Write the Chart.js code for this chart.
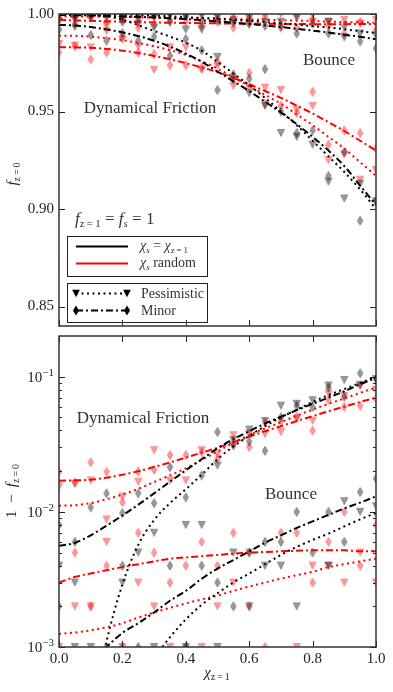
<!DOCTYPE html>
<html>
<head>
<meta charset="utf-8">
<script src="https://cdn.jsdelivr.net/npm/chart.js@4.4.1/dist/chart.umd.min.js"></script>
<style>
html, body { margin: 0; padding: 0; background: #fff; }
#wrap { position: relative; width: 393px; height: 692px; }
canvas { position: absolute; left: 0; }
#top { top: 0; }
#bot { top: 331px; }
</style>
</head>
<body>
<div id="wrap">
  <canvas id="top" width="393" height="331"></canvas>
  <canvas id="bot" width="393" height="361"></canvas>
</div>
<script>
// chi_{z=1} grid
const chi = [0, 0.05, 0.1, 0.15, 0.2, 0.25, 0.3, 0.35, 0.4, 0.45, 0.5, 0.55, 0.6, 0.65, 0.7, 0.75, 0.8, 0.85, 0.9, 0.95, 1.0];

// fitted curves, given as 1 - f_{z=0}
const dfMinorBlack = [0.0056, 0.0059, 0.0067, 0.0079, 0.0094, 0.0113, 0.0137, 0.0167, 0.0203, 0.0245, 0.0295, 0.0345, 0.0395, 0.045, 0.0505, 0.0565, 0.063, 0.070, 0.078, 0.088, 0.098];
const dfPessBlack = [0.00002, 0.00006, 0.0003, 0.0011, 0.0029, 0.0057, 0.0087, 0.0116, 0.0147, 0.0188, 0.0245, 0.0305, 0.0365, 0.043, 0.050, 0.057, 0.065, 0.073, 0.081, 0.090, 0.100];
const dfMinorRed = [0.0170, 0.0171, 0.0173, 0.0179, 0.0188, 0.0200, 0.0215, 0.0232, 0.0252, 0.0274, 0.0298, 0.0327, 0.0360, 0.0395, 0.043, 0.047, 0.051, 0.0555, 0.060, 0.065, 0.070];
const dfPessRed = [0.0111, 0.0112, 0.0116, 0.0124, 0.0134, 0.0148, 0.0166, 0.0186, 0.021, 0.0242, 0.028, 0.0325, 0.037, 0.0415, 0.046, 0.0515, 0.057, 0.063, 0.069, 0.076, 0.083];
const bMinorBlack = [0.0005, 0.0006, 0.00075, 0.001, 0.00127, 0.0015, 0.0018, 0.0022, 0.0026, 0.0032, 0.0038, 0.0044, 0.0051, 0.0059, 0.0067, 0.0076, 0.0085, 0.0095, 0.0106, 0.0117, 0.013];
const bPessBlack = [0.00003, 0.00006, 0.00011, 0.0002, 0.00032, 0.00052, 0.00082, 0.00118, 0.0016, 0.00205, 0.0025, 0.003, 0.0035, 0.0041, 0.0048, 0.0055, 0.0062, 0.0069, 0.0078, 0.0088, 0.0098];
const bMinorRed = [0.0030, 0.0033, 0.0035, 0.0037, 0.0039, 0.0041, 0.0043, 0.0045, 0.0046, 0.0047, 0.0048, 0.0049, 0.0050, 0.00505, 0.0051, 0.00515, 0.0052, 0.0052, 0.0052, 0.0051, 0.0051];
const bPessRed = [0.00125, 0.00128, 0.00133, 0.0014, 0.0015, 0.00165, 0.0018, 0.00195, 0.0021, 0.00225, 0.0024, 0.0026, 0.0028, 0.003, 0.0032, 0.0034, 0.0036, 0.0039, 0.0041, 0.0043, 0.0045];

// simulation points, 1 - f_{z=0} (0 = nothing lost)
const ptDfMinorBlack = [0.008, 0.006, 0.0108, 0.0137, 0.0098, 0.0137, 0.0116, 0.0214, 0.0128, 0.0186, 0.039, 0.031, 0.0331, 0.0283, 0.050, 0.061, 0.0597, 0.083, 0.0708, 0.106, 0.096];
const ptDfPessBlack = [0, 0.001, 0, 0, 0, 0.005, 0.007, 0, 0.008, 0.008, 0.022, 0.034, 0.0406, 0.047, 0.061, 0.063, 0.067, 0.086, 0.0946, 0.087, 0.096];
const ptDfMinorRed = [0.0198, 0.0165, 0.0233, 0.0198, 0.0118, 0.0199, 0.0205, 0.0263, 0.0263, 0.0275, 0.0246, 0.032, 0.0302, 0.046, 0.047, 0.0507, 0.0399, 0.067, 0.0597, 0.061, 0.069];
const ptDfPessRed = [0.0154, 0.0162, 0.0171, 0.0088, 0.013, 0.0167, 0.0286, 0.0171, 0.0171, 0.0286, 0.0265, 0.0369, 0.038, 0.0378, 0.039, 0.049, 0.0472, 0.075, 0.072, 0.085, 0.080];
const ptBMinorBlack = [0.002, 0, 0, 0.001, 0.004, 0.001, 0, 0.004, 0.001, 0.004, 0.003, 0.002, 0.005, 0.006, 0.006, 0.010, 0.005, 0.010, 0.006, 0.014, 0.0176];
const ptBPessBlack = [0.004, 0.003, 0.001, 0, 0.003, 0, 0.001, 0, 0.001, 0, 0.001, 0.005, 0.002, 0.004, 0.004, 0.002, 0, 0.004, 0.012, 0.010, 0.011];
const ptBMinorRed = [0, 0.005, 0.002, 0.004, 0.001, 0.007, 0.005, 0.003, 0.004, 0.006, 0.004, 0.007, 0.002, 0.001, 0.007, 0.007, 0.003, 0.006, 0.010, 0.004, 0.008];
const ptBPessRed = [0.001, 0.002, 0.002, 0.006, 0.001, 0.003, 0.002, 0.001, 0, 0.001, 0.002, 0.003, 0.005, 0, 0, 0.001, 0.004, 0.004, 0.003, 0.005, 0.003];

// ticks
const xTicks = [0, 0.2, 0.4, 0.6, 0.8, 1.0];
const xTickLabels = ['0.0', '0.2', '0.4', '0.6', '0.8', '1.0'];
const yTicksTop = [0.85, 0.90, 0.95, 1.00];
const yTickLabelsTop = ['0.85', '0.90', '0.95', '1.00'];
const yTicksBot = [0.001, 0.01, 0.1];
const yTickExpBot = ['\u22123', '\u22122', '\u22121'];

const SERIF = '"Liberation Serif", "DejaVu Serif", serif';
const DOT = [2, 3.5];
const DASHDOT = [7, 3, 2, 3];
const GRAY = 'rgba(0,0,0,0.4)';
const PINK = 'rgba(255,0,0,0.4)';

function triPath(g, cx, cy, s) {
  g.beginPath();
  g.moveTo(cx - s, cy - s);
  g.lineTo(cx + s, cy - s);
  g.lineTo(cx, cy + s);
  g.closePath();
}
function diaPath(g, cx, cy, s) {
  g.beginPath();
  g.moveTo(cx, cy - s);
  g.lineTo(cx + s * 0.6, cy);
  g.lineTo(cx, cy + s);
  g.lineTo(cx - s * 0.6, cy);
  g.closePath();
}
function marker(kind, color) {
  const c = document.createElement('canvas');
  c.width = 12; c.height = 12;
  const g = c.getContext('2d');
  if (kind === 'v') triPath(g, 6, 6, 3.6); else diaPath(g, 6, 6, 4.6);
  g.fillStyle = color; g.fill();
  g.lineWidth = 0.8; g.strokeStyle = color; g.stroke();
  return c;
}
const mk = {
  grayV: marker('v', GRAY), grayD: marker('d', GRAY),
  redV: marker('v', PINK), redD: marker('d', PINK)
};

function curveData(vals, top) {
  return chi.map((x, i) => ({ x: x, y: top ? 1 - vals[i] : vals[i] }));
}
function pointData(vals, top) {
  return chi.map((x, i) => ({ x: x, y: top ? 1 - vals[i] : (vals[i] > 0 ? vals[i] : null) }));
}

function buildDatasets(top) {
  const lines = [
    [dfMinorBlack, '#000', DASHDOT], [dfPessBlack, '#000', DOT],
    [dfMinorRed, '#ff0000', DASHDOT], [dfPessRed, '#ff0000', DOT],
    [bMinorBlack, '#000', DASHDOT], [bPessBlack, '#000', DOT],
    [bMinorRed, '#ff0000', DASHDOT], [bPessRed, '#ff0000', DOT]
  ];
  const pts = [
    [ptDfMinorBlack, mk.grayD], [ptDfPessBlack, mk.grayV],
    [ptDfMinorRed, mk.redD], [ptDfPessRed, mk.redV],
    [ptBMinorBlack, mk.grayD], [ptBPessBlack, mk.grayV],
    [ptBMinorRed, mk.redD], [ptBPessRed, mk.redV]
  ];
  const ds = [];
  lines.forEach(l => ds.push({
    data: curveData(l[0], top), showLine: true, borderColor: l[1], borderWidth: 2,
    borderDash: l[2], pointRadius: 0, cubicInterpolationMode: 'monotone', clip: 0
  }));
  pts.forEach(p => ds.push({
    data: pointData(p[0], top), showLine: false, pointStyle: p[1], pointRadius: 4, clip: 0
  }));
  return ds;
}

// text with sub/superscripts: parts = [text, font, dy]
function rich(ctx, parts, x, y, align) {
  let w = 0;
  parts.forEach(p => { ctx.font = p[1]; w += ctx.measureText(p[0]).width; });
  let cx = align === 'center' ? x - w / 2 : (align === 'right' ? x - w : x);
  ctx.textAlign = 'left';
  ctx.textBaseline = 'alphabetic';
  parts.forEach(p => { ctx.font = p[1]; ctx.fillText(p[0], cx, y + (p[2] || 0)); cx += ctx.measureText(p[0]).width; });
}
function vrich(ctx, parts, x, y) {
  ctx.save();
  ctx.translate(x, y);
  ctx.rotate(-Math.PI / 2);
  rich(ctx, parts, 0, 0, 'center');
  ctx.restore();
}

function frame(ctx, chart, yMajor, yMinor) {
  const a = chart.chartArea, xs = chart.scales.x, ys = chart.scales.y;
  ctx.strokeStyle = '#222';
  ctx.lineWidth = 1;
  ctx.beginPath();
  xTicks.forEach(v => {
    const p = Math.round(xs.getPixelForValue(v)) + 0.5;
    ctx.moveTo(p, a.bottom); ctx.lineTo(p, a.bottom - 6);
    ctx.moveTo(p, a.top); ctx.lineTo(p, a.top + 6);
  });
  yMajor.forEach(v => {
    const p = Math.round(ys.getPixelForValue(v)) + 0.5;
    ctx.moveTo(a.left, p); ctx.lineTo(a.left + 6, p);
    ctx.moveTo(a.right, p); ctx.lineTo(a.right - 6, p);
  });
  yMinor.forEach(v => {
    const p = Math.round(ys.getPixelForValue(v)) + 0.5;
    ctx.moveTo(a.left, p); ctx.lineTo(a.left + 3, p);
    ctx.moveTo(a.right, p); ctx.lineTo(a.right - 3, p);
  });
  ctx.stroke();
  ctx.strokeStyle = '#333';
  ctx.lineWidth = 1.5;
  ctx.strokeRect(a.left, a.top, a.right - a.left, a.bottom - a.top);
}

const topDecor = {
  id: 'topDecor',
  afterDraw(chart) {
    const ctx = chart.ctx, a = chart.chartArea, ys = chart.scales.y;
    ctx.save();
    frame(ctx, chart, yTicksTop, []);
    ctx.fillStyle = '#222';
    ctx.font = '15px ' + SERIF;
    ctx.textAlign = 'right';
    ctx.textBaseline = 'middle';
    yTicksTop.forEach((v, i) => ctx.fillText(yTickLabelsTop[i], a.left - 5, ys.getPixelForValue(v)));
    vrich(ctx, [['f', 'italic 15px ' + SERIF], ['z\u2009=\u20090', '10px ' + SERIF, 3]], 17, 174);

    ctx.fillStyle = '#333';
    ctx.font = '17px ' + SERIF;
    ctx.textAlign = 'center';
    ctx.textBaseline = 'alphabetic';
    ctx.fillText('Dynamical Friction', 150, 113);
    ctx.fillText('Bounce', 329, 65);

    rich(ctx, [['f', 'italic 17px ' + SERIF], ['z\u2009=\u20091', '11px ' + SERIF, 3],
      [' = ', '17px ' + SERIF], ['f', 'italic 17px ' + SERIF], ['s', 'italic 11px ' + SERIF, 3],
      [' = 1', '17px ' + SERIF]], 75, 224, 'left');

    // legend boxes
    ctx.strokeStyle = '#222';
    ctx.lineWidth = 1;
    ctx.strokeRect(67.5, 236.5, 140, 40);
    ctx.strokeRect(67.5, 283.5, 140, 39);
    ctx.lineWidth = 2;
    ctx.strokeStyle = '#000';
    ctx.beginPath(); ctx.moveTo(76, 246.5); ctx.lineTo(128, 246.5); ctx.stroke();
    ctx.strokeStyle = '#ff0000';
    ctx.beginPath(); ctx.moveTo(76, 263.5); ctx.lineTo(128, 263.5); ctx.stroke();
    ctx.strokeStyle = '#000';
    ctx.setLineDash(DOT);
    ctx.beginPath(); ctx.moveTo(76, 293.5); ctx.lineTo(128, 293.5); ctx.stroke();
    ctx.setLineDash(DASHDOT);
    ctx.beginPath(); ctx.moveTo(76, 310.5); ctx.lineTo(128, 310.5); ctx.stroke();
    ctx.setLineDash([]);
    ctx.fillStyle = '#000';
    [76, 127].forEach(x => {
      triPath(ctx, x, 293.5, 3.8); ctx.fill();
      diaPath(ctx, x, 310.5, 5); ctx.fill();
    });
    ctx.fillStyle = '#333';
    rich(ctx, [['\u03c7', 'italic 14px ' + SERIF], ['s', 'italic 9px ' + SERIF, 3], [' = ', '14px ' + SERIF],
      ['\u03c7', 'italic 14px ' + SERIF], ['z\u2009=\u20091', '9px ' + SERIF, 3]], 140, 250, 'left');
    rich(ctx, [['\u03c7', 'italic 14px ' + SERIF], ['s', 'italic 9px ' + SERIF, 3], [' random', '14px ' + SERIF]], 140, 267, 'left');
    ctx.font = '14px ' + SERIF;
    ctx.fillText('Pessimistic', 141, 298);
    ctx.fillText('Minor', 141, 315);
    ctx.restore();
  }
};

const botDecor = {
  id: 'botDecor',
  afterDraw(chart) {
    const ctx = chart.ctx, a = chart.chartArea, xs = chart.scales.x, ys = chart.scales.y;
    const minor = [];
    [0.001, 0.01].forEach(d => { for (let k = 2; k <= 9; k++) minor.push(d * k); });
    ctx.save();
    frame(ctx, chart, yTicksBot, minor);
    ctx.fillStyle = '#222';
    yTicksBot.forEach((v, i) => {
      const y = ys.getPixelForValue(v);
      rich(ctx, [['10', '15px ' + SERIF, 5], [yTickExpBot[i], '11px ' + SERIF, -1]], a.left - 5, y, 'right');
    });
    ctx.font = '15px ' + SERIF;
    ctx.textAlign = 'center';
    ctx.textBaseline = 'alphabetic';
    xTicks.forEach((v, i) => ctx.fillText(xTickLabels[i], xs.getPixelForValue(v), a.bottom + 16));
    rich(ctx, [['\u03c7', 'italic 15px ' + SERIF], ['z\u2009=\u20091', '10px ' + SERIF, 3]], 217, 346, 'center');
    vrich(ctx, [['1\u2002\u2212\u2002', '15px ' + SERIF], ['f', 'italic 15px ' + SERIF], ['z\u2009=\u20090', '10px ' + SERIF, 3]], 16, 160);

    ctx.fillStyle = '#333';
    ctx.font = '17px ' + SERIF;
    ctx.textAlign = 'center';
    ctx.textBaseline = 'alphabetic';
    ctx.fillText('Dynamical Friction', 143, 92);
    ctx.fillText('Bounce', 291, 168);
    ctx.restore();
  }
};

function makeChart(id, top) {
  return new Chart(document.getElementById(id), {
    type: 'scatter',
    data: { datasets: buildDatasets(top) },
    options: {
      responsive: false,
      animation: false,
      devicePixelRatio: 1,
      events: [],
      layout: { padding: top ? { left: 59, right: 17, top: 14, bottom: 0 } : { left: 59, right: 17, top: 0, bottom: 45 } },
      plugins: { legend: { display: false }, tooltip: { enabled: false } },
      scales: {
        x: { type: 'linear', min: 0, max: 1, display: false },
        y: top ? { type: 'linear', min: 0.84, max: 1.0, display: false }
               : { type: 'logarithmic', min: 0.001, max: 0.2, display: false }
      }
    },
    plugins: [top ? topDecor : botDecor]
  });
}

makeChart('top', true);
makeChart('bot', false);
</script>
</body>
</html>
